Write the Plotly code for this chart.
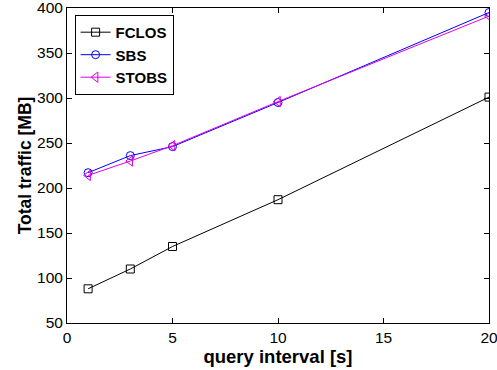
import plotly.graph_objects as go

x_vals = [1, 3, 5, 10, 20]
fclos = [88, 110, 135, 187, 301]
sbs = [217, 236, 246, 295, 395]
stobs = [214, 230, 247, 296, 391]

fig = go.Figure()
fig.add_trace(go.Scatter(x=x_vals, y=fclos, name="FCLOS", mode="lines+markers",
                         line=dict(color="black", width=1),
                         marker=dict(symbol="square-open", size=8, color="black", line=dict(width=1))))
fig.add_trace(go.Scatter(x=x_vals, y=sbs, name="SBS", mode="lines+markers",
                         line=dict(color="blue", width=1),
                         marker=dict(symbol="circle-open", size=8, color="blue", line=dict(width=1))))
fig.add_trace(go.Scatter(x=x_vals, y=stobs, name="STOBS", mode="lines+markers",
                         line=dict(color="#e000e0", width=1),
                         marker=dict(symbol="triangle-left-open", size=9, color="#e000e0", line=dict(width=1))))

axis_common = dict(showline=True, linecolor="black", linewidth=1, mirror="ticks",
                   ticks="inside", ticklen=5, tickcolor="black", showgrid=False, zeroline=False,
                   ticklabeloverflow="allow", automargin=False,
                   tickfont=dict(family="Liberation Sans, Arial", size=15.5, color="black"))
fig.update_xaxes(range=[0, 20], tickvals=[0, 5, 10, 15, 20],
                 title=dict(text="<b>query interval [s]</b>", font=dict(family="Liberation Sans, Arial", size=18.5, color="black"), standoff=3),
                 **axis_common)
fig.update_yaxes(range=[50, 400], tickvals=[50, 100, 150, 200, 250, 300, 350, 400],
                 title=dict(text="<b>Total traffic [MB]</b>", font=dict(family="Liberation Sans, Arial", size=17.5, color="black"), standoff=0),
                 **axis_common)
fig.update_layout(width=497, height=370, margin=dict(l=67, r=8, t=8, b=47, autoexpand=False),
                  plot_bgcolor="white", paper_bgcolor="white",
                  legend=dict(x=0.018, y=0.978, xanchor="left", yanchor="top",
                              bordercolor="black", borderwidth=1, bgcolor="white",
                              font=dict(family="Liberation Sans, Arial", size=15, color="black", weight="bold"),
                              tracegroupgap=0, itemwidth=30))
fig.write_html("out.html")
